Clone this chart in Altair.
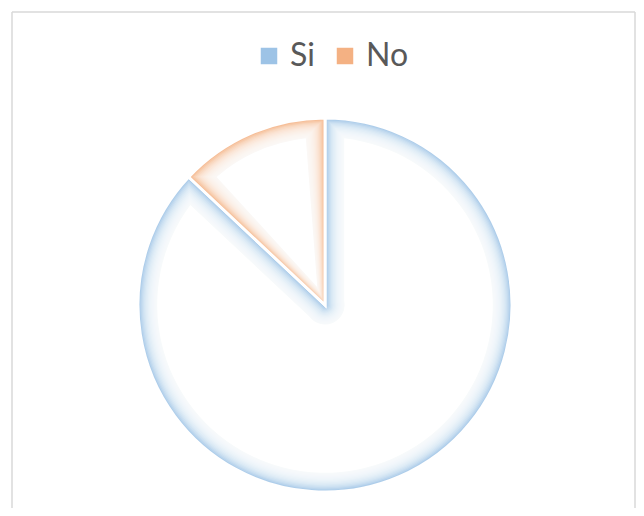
import math
import altair as alt
import pandas as pd

# ---- data ----
categories = ["Si", "No"]
values = [87, 13]
order = [1, 2]

df = pd.DataFrame({"respuesta": categories, "valor": values, "orden": order})
frame_df = pd.DataFrame({"k": [0]})

# ---- layout / style ----
W, H = 624, 496
CX, CY = 313, 293
R = 187
colors = ["#9DC3E6", "#F4B183"]
frame_color = "#D9D9D9"

N = 16
step = 1.2
alpha = 0.17

base = alt.Chart(df).encode(
    theta=alt.Theta("valor:Q", stack=True),
    order=alt.Order("orden:Q"),
    x=alt.value(CX),
    y=alt.value(CY),
)

layers = []
pie = base.mark_arc(radius=R, stroke="white", strokeWidth=3).encode(
    color=alt.Color(
        "respuesta:N",
        scale=alt.Scale(domain=categories, range=colors),
        legend=alt.Legend(
            orient="none",
            legendX=241,
            legendY=28,
            direction="horizontal",
            symbolType="square",
            symbolSize=272,
            symbolStrokeWidth=0,
            symbolOpacity=1,
            labelFontSize=32,
            labelFont="Lato",
            labelColor="#595959",
            labelOffset=5,
            columnPadding=14,
            title=None,
        ),
    )
)
layers.append(pie)

# inner glow: white, progressively inset layers
for k in range(1, N + 1):
    d = k * step
    r1 = R - d
    r0 = 1.02 * d
    rp = math.sqrt(r0 * r0 + r1 * r1)
    pad = 2 * math.asin(d / rp)
    op = alpha if k < N else 1.0
    layers.append(
        base.mark_arc(
            radius=r1,
            innerRadius=r0,
            padAngle=pad,
            fill="white",
            fillOpacity=op,
            strokeWidth=0,
        )
    )

# chart frame (left, top, right)
fr = alt.Chart(frame_df)
left = fr.mark_rule(color=frame_color, strokeWidth=1.5).encode(
    x=alt.value(0), y=alt.value(0), y2=alt.value(H + 20)
)
top = fr.mark_rule(color=frame_color, strokeWidth=1.5).encode(
    x=alt.value(0), x2=alt.value(W - 1), y=alt.value(0)
)
right = fr.mark_rule(color=frame_color, strokeWidth=1.5).encode(
    x=alt.value(W - 1), y=alt.value(0), y2=alt.value(H + 20)
)

chart = (
    alt.layer(*layers, left, top, right)
    .properties(
        width=W,
        height=H,
        padding={"left": 4, "top": 4, "right": 0, "bottom": 0},
        autosize=alt.AutoSizeParams(type="none"),
    )
    .configure_view(stroke=None)
)

chart.save("out.html", embed_options={"renderer": "svg", "actions": False})
